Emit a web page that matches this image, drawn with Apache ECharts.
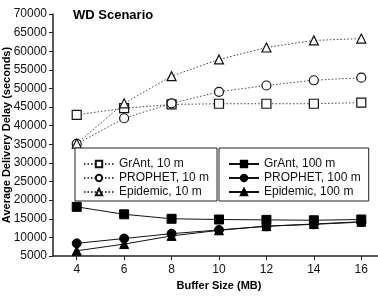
<!DOCTYPE html>
<html>
<head>
<meta charset="utf-8">
<script src="https://cdn.jsdelivr.net/npm/echarts@6/dist/echarts.min.js"></script>
<style>
  html, body { margin: 0; padding: 0; background: #fff; }
  #chart { width: 378px; height: 296px; }
</style>
</head>
<body>
<div id="chart"></div>
<script>
const bufferSizes = [4, 6, 8, 10, 12, 14, 16];

// 10 m range (dotted, hollow markers)
const grant10 = [42900, 44700, 45700, 45900, 45900, 45900, 46200];
const prophet10 = [35100, 42000, 46000, 49100, 50800, 52200, 52900];
const epidemic10 = [35200, 46000, 53300, 57800, 61000, 62900, 63400];

// 100 m range (solid, filled markers)
const grant100 = [18200, 16200, 15000, 14800, 14700, 14600, 14800];
const prophet100 = [8400, 9700, 11000, 12000, 13000, 13500, 14100];
const epidemic100 = [6400, 8200, 10400, 11900, 13000, 13600, 14200];

const legend10 = ['GrAnt, 10 m', 'PROPHET, 10 m', 'Epidemic, 10 m'];
const legend100 = ['GrAnt, 100 m', 'PROPHET, 100 m', 'Epidemic, 100 m'];

const font = 'Liberation Sans, Arial, sans-serif';

function pairs(vals) {
  return bufferSizes.map((x, i) => [x, vals[i]]);
}

function dotted(name, vals, symbol) {
  return {
    name, type: 'line', data: pairs(vals), symbol, symbolSize: 9,
    lineStyle: { color: '#444', width: 1, type: [1.5, 2] },
    itemStyle: { color: '#fff', borderColor: '#111', borderWidth: 1.2 },
    z: 2
  };
}

function solid(name, vals, symbol) {
  return {
    name, type: 'line', data: pairs(vals), symbol, symbolSize: 9,
    lineStyle: { color: '#111', width: 1 },
    itemStyle: { color: '#000', borderColor: '#000', borderWidth: 1 },
    z: 3
  };
}

const chart = echarts.init(document.getElementById('chart'), null, { renderer: 'canvas' });

const legendBase = {
  orient: 'vertical',
  itemWidth: 30,
  itemHeight: 8,
  itemGap: 2,
  backgroundColor: '#fff',
  borderColor: '#222',
  borderWidth: 1,
  textStyle: { fontFamily: font, fontSize: 12, color: '#111' }
};

chart.setOption({
  animation: false,
  title: {
    text: 'WD Scenario',
    left: 68, top: 4,
    textStyle: { fontFamily: font, fontSize: 13, fontWeight: 'bold', color: '#000' }
  },
  legend: [
    Object.assign({}, legendBase, { data: legend10, left: 75, top: 148, padding: [10, 8, 3, 8] }),
    Object.assign({}, legendBase, { data: legend100, left: 219, top: 148, padding: [10, 8, 3, 9] })
  ],
  grid: { left: 53, right: -7, top: 14, bottom: 40, outerBoundsMode: 'none' },
  xAxis: {
    type: 'value', min: 3, max: 17, interval: 1,
    name: 'Buffer Size (MB)', nameLocation: 'middle', nameGap: 22,
    nameTextStyle: { fontFamily: font, fontSize: 11, fontWeight: 'bold', color: '#000' },
    axisLine: { lineStyle: { color: '#222', width: 1.5 } },
    axisTick: { show: true, length: 4, customValues: bufferSizes, lineStyle: { color: '#222' } },
    axisLabel: {
      fontFamily: font, fontSize: 12, color: '#111', margin: 8,
      customValues: bufferSizes
    },
    splitLine: { show: false }
  },
  yAxis: {
    type: 'value', min: 5000, max: 70000, interval: 5000,
    name: 'Average Delivery Delay (seconds)', nameLocation: 'middle', nameGap: 41,
    nameMoveOverlap: false,
    nameTextStyle: { fontFamily: font, fontSize: 11, fontWeight: 'bold', color: '#000' },
    axisLine: { show: true, lineStyle: { color: '#222', width: 1.5 } },
    axisTick: { show: true, length: 4, lineStyle: { color: '#222' } },
    axisLabel: { fontFamily: font, fontSize: 12, color: '#111', margin: 6, formatter: v => String(v) },
    splitLine: { show: false }
  },
  series: [
    dotted(legend10[0], grant10, 'rect'),
    dotted(legend10[1], prophet10, 'circle'),
    dotted(legend10[2], epidemic10, 'triangle'),
    solid(legend100[0], grant100, 'rect'),
    solid(legend100[1], prophet100, 'circle'),
    solid(legend100[2], epidemic100, 'triangle')
  ]
});
</script>
</body>
</html>
